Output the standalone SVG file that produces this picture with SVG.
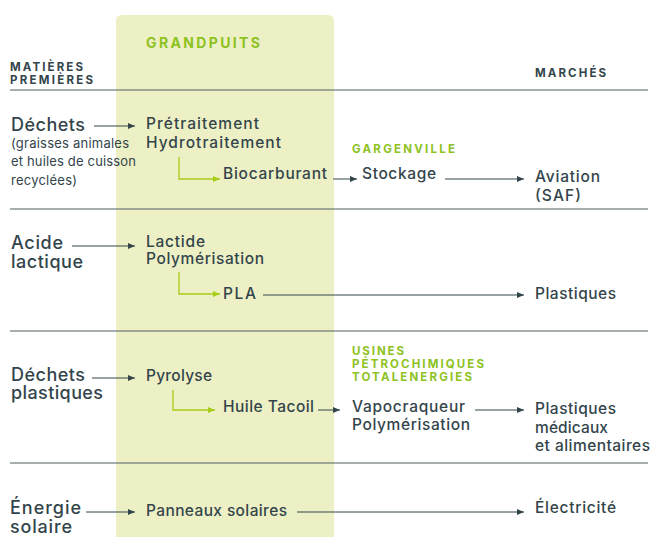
<svg xmlns="http://www.w3.org/2000/svg" width="652" height="537" viewBox="0 0 652 537">
<defs>
<style>
text{font-family:Inter,"Noto Sans","Liberation Sans",sans-serif;fill:#33454b}
.big{font-size:18px;font-weight:500}
.mid{font-size:15.5px;font-weight:500}
.small{font-size:13px;font-weight:400}
.hdr{font-size:11.5px;font-weight:700}
.grn{fill:#8dc21f;font-weight:700}
.sep{stroke:#4f5e63;stroke-width:1.2}
.ar{stroke:#33454b;stroke-width:1;fill:none;marker-end:url(#ad)}
.ag{stroke:#a8cc1a;stroke-width:1.3;fill:none;marker-end:url(#ag)}
</style>
<marker id="ad" markerWidth="8" markerHeight="6" refX="7" refY="3" orient="auto" markerUnits="userSpaceOnUse"><path d="M0,0 L7,3 L0,6 Z" fill="#33454b"/></marker>
<marker id="ag" markerWidth="8" markerHeight="6" refX="7" refY="3" orient="auto" markerUnits="userSpaceOnUse"><path d="M0,0 L7,3 L0,6 Z" fill="#a8cc1a"/></marker>
</defs>
<rect width="652" height="537" fill="#ffffff"/>
<g id="grandpuits-panel">
<path d="M116,545 V21 Q116,15 122,15 H328 Q334,15 334,21 V545 Z" fill="#edf0c5"/>
<text x="146" y="48" class="hdr grn" style="font-size:14px" textLength="114">GRANDPUITS</text>
</g>
<g id="headers">
<text x="10" y="71" class="hdr" textLength="73">MATIÈRES</text>
<text x="10" y="84" class="hdr" textLength="83">PREMIÈRES</text>
<text x="535" y="77" class="hdr" textLength="71">MARCHÉS</text>
</g>
<g id="separators">
<line x1="10" y1="90" x2="648" y2="90" class="sep"/>
<line x1="10" y1="209" x2="648" y2="209" class="sep"/>
<line x1="10" y1="331" x2="648" y2="331" class="sep"/>
<line x1="10" y1="463" x2="648" y2="463" class="sep"/>
</g>
<g id="dechets">
<text x="11" y="131" class="big" textLength="74">Déchets</text>
<text x="11" y="148" class="small" textLength="118">(graisses animales</text>
<text x="11" y="166" class="small" textLength="125">et huiles de cuisson</text>
<text x="11" y="185" class="small" textLength="66">recyclées)</text>
</g>
<g id="pretraitement"><text x="146" y="129" class="mid" textLength="113">Prétraitement</text><text x="146" y="148" class="mid" textLength="135">Hydrotraitement</text></g>
<g id="biocarburant"><text x="223" y="179" class="mid" textLength="104">Biocarburant</text></g>
<g id="gargenville"><text x="352" y="153" class="hdr grn" textLength="103">GARGENVILLE</text><text x="362" y="179" class="mid" textLength="74">Stockage</text></g>
<g id="aviation"><text x="535" y="182" class="mid" textLength="65">Aviation</text><text x="535" y="201" class="mid" textLength="46">(SAF)</text></g>
<g id="acide"><text x="11" y="249" class="big" textLength="52">Acide</text><text x="11" y="268" class="big" textLength="72">lactique</text></g>
<g id="lactide"><text x="146" y="247" class="mid" textLength="59">Lactide</text><text x="146" y="264" class="mid" textLength="118">Polymérisation</text></g>
<g id="pla"><text x="223" y="299" class="mid" textLength="33">PLA</text></g>
<g id="plastiques"><text x="535" y="299" class="mid" textLength="81">Plastiques</text></g>
<g id="dechets-plastiques"><text x="11" y="381" class="big" textLength="74">Déchets</text><text x="11" y="399" class="big" textLength="92">plastiques</text></g>
<g id="pyrolyse"><text x="146" y="381" class="mid" textLength="66">Pyrolyse</text></g>
<g id="huile-tacoil"><text x="223" y="412" class="mid" textLength="91">Huile Tacoil</text></g>
<g id="usines">
<text x="352" y="355" class="hdr grn" textLength="52">USINES</text>
<text x="352" y="368" class="hdr grn" textLength="132">PÉTROCHIMIQUES</text>
<text x="352" y="381" class="hdr grn" textLength="120">TOTALENERGIES</text>
<text x="352" y="412" class="mid" textLength="113">Vapocraqueur</text>
<text x="352" y="430" class="mid" textLength="118">Polymérisation</text>
</g>
<g id="plastiques-medicaux"><text x="535" y="414" class="mid" textLength="81">Plastiques</text><text x="535" y="433" class="mid" textLength="73">médicaux</text><text x="535" y="451" class="mid" textLength="115">et alimentaires</text></g>
<g id="energie-solaire"><text x="10" y="514" class="big" textLength="71">Énergie</text><text x="10" y="533" class="big" textLength="62">solaire</text></g>
<g id="panneaux"><text x="146" y="516" class="mid" textLength="141">Panneaux solaires</text></g>
<g id="electricite"><text x="535" y="513" class="mid" textLength="81">Électricité</text></g>
<g id="connectors">
<line x1="94" y1="126" x2="135" y2="126" class="ar"/>
<path d="M179,157 V179 H220" class="ag"/>
<line x1="333" y1="179" x2="357" y2="179" class="ar"/>
<line x1="445" y1="179" x2="524" y2="179" class="ar"/>
<line x1="72" y1="246" x2="135" y2="246" class="ar"/>
<path d="M179,272 V294 H220" class="ag"/>
<line x1="263" y1="295" x2="524" y2="295" class="ar"/>
<line x1="92" y1="378" x2="135" y2="378" class="ar"/>
<path d="M173,390 V410 H215" class="ag"/>
<line x1="318" y1="410" x2="340" y2="410" class="ar"/>
<line x1="475" y1="410" x2="524" y2="410" class="ar"/>
<line x1="86" y1="512" x2="135" y2="512" class="ar"/>
<line x1="297" y1="512" x2="524" y2="512" class="ar"/>
</g>
</svg>
